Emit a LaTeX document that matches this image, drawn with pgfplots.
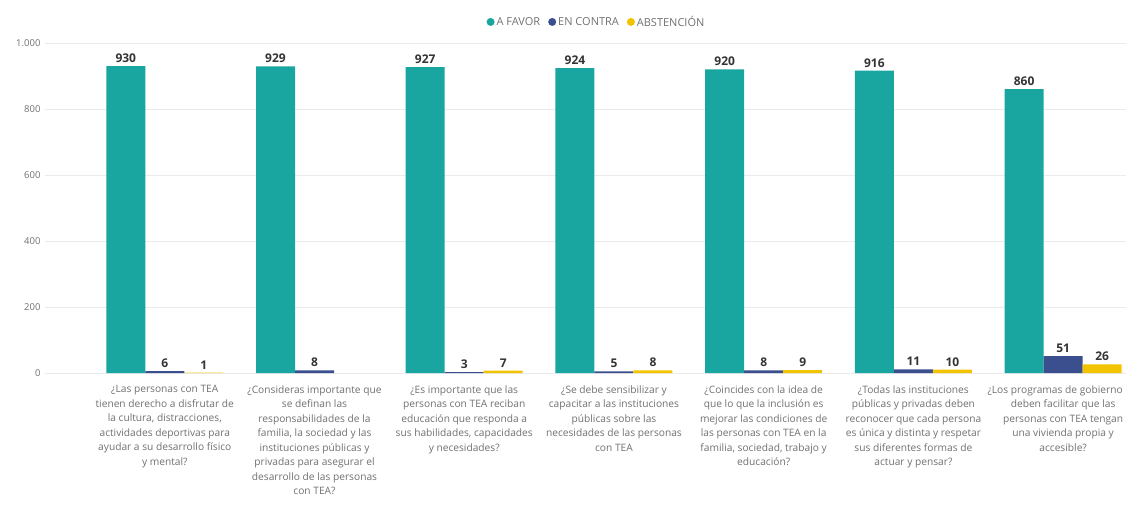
\documentclass[border=0pt]{standalone}
\usepackage{pgfplots}
\pgfplotsset{compat=1.18}
\usepackage{fontspec}
\setmainfont{Open Sans}
\definecolor{cA}{HTML}{1AA6A0}
\definecolor{cB}{HTML}{3B4F8F}
\definecolor{cC}{HTML}{F2C300}
\definecolor{tg}{HTML}{707070}
\definecolor{lg}{HTML}{333333}
\begin{document}
\begin{tikzpicture}
\begin{axis}[
  scale only axis, width=1081pt, height=330pt,
  xmin=-0.8, xmax=6.42, ymin=0, ymax=1000,
  ybar=0pt, bar width=39pt,
  axis line style={draw=none},
  major tick length=0pt,
  ytick={0,200,...,1000},
  ymajorgrids, grid style={draw=black!8, line width=0.6pt},
  /pgf/number format/assume math mode=true,
  /pgf/number format/1000 sep={.},
  y tick label style={font=\fontsize{9.5}{11}\selectfont, text=tg},
  yticklabel style={xshift=-1pt},
  xtick={0,...,6},
  xticklabels={
    {¿Las personas con TEA\\tienen derecho a disfrutar de\\la cultura, distracciones,\\actividades deportivas para\\ayudar a su desarrollo físico\\y mental?},
    {¿Consideras importante que\\se definan las\\responsabilidades de la\\familia, la sociedad y las\\instituciones públicas y\\privadas para asegurar el\\desarrollo de las personas\\con TEA?},
    {¿Es importante que las\\personas con TEA reciban\\educación que responda a\\sus habilidades, capacidades\\y necesidades?},
    {¿Se debe sensibilizar y\\capacitar a las instituciones\\públicas sobre las\\necesidades de las personas\\con TEA},
    {¿Coincides con la idea de\\que lo que la inclusión es\\mejorar las condiciones de\\las personas con TEA en la\\familia, sociedad, trabajo y\\educación?},
    {¿Todas las instituciones\\públicas y privadas deben\\reconocer que cada persona\\es única y distinta y respetar\\sus diferentes formas de\\actuar y pensar?},
    {¿Los programas de gobierno\hspace*{16pt}\\deben facilitar que las\\personas con TEA tengan\\una vivienda propia y\\accesible?}
  },
  x tick label style={align=center, font=\fontsize{10.2}{14.5}\selectfont, text=tg, anchor=north, yshift=-9pt},
  nodes near coords,
  every node near coord/.append style={font=\bfseries\fontsize{12}{13}\selectfont, text=lg, yshift=0pt},
  legend style={at={(0.5,1)}, anchor=south, xshift=11pt, yshift=11pt, draw=none, fill=none,
    font=\fontsize{11}{12}\selectfont, text=tg, legend columns=-1,
    /tikz/every even column/.append style={column sep=6pt},
    /tikz/every odd column/.append style={column sep=0pt}},
  legend cell align=left,
]
\addplot[fill=cA, draw=none, legend image code/.code={\fill[cA] (4pt,0pt) circle (4pt);}]
  coordinates {(0,930) (1,929) (2,927) (3,924) (4,920) (5,916) (6,860)};
\addlegendentry{A FAVOR}
\addplot[fill=cB, draw=none, legend image code/.code={\fill[cB] (4pt,0pt) circle (4pt);}]
  coordinates {(0,6) (1,8) (2,3) (3,5) (4,8) (5,11) (6,51)};
\addlegendentry{EN CONTRA}
\addplot[fill=cC, draw=none, legend image code/.code={\fill[cC] (4pt,0pt) circle (4pt);}]
  coordinates {(0,1) (2,7) (3,8) (4,9) (5,10) (6,26)};
\addlegendentry{ABSTENCIÓN}
\end{axis}
\pgfresetboundingbox
\path[use as bounding box] ([xshift=-45pt,yshift=-131pt]current axis.south west) rectangle ([yshift=43pt]current axis.north east);
\end{tikzpicture}
\end{document}
